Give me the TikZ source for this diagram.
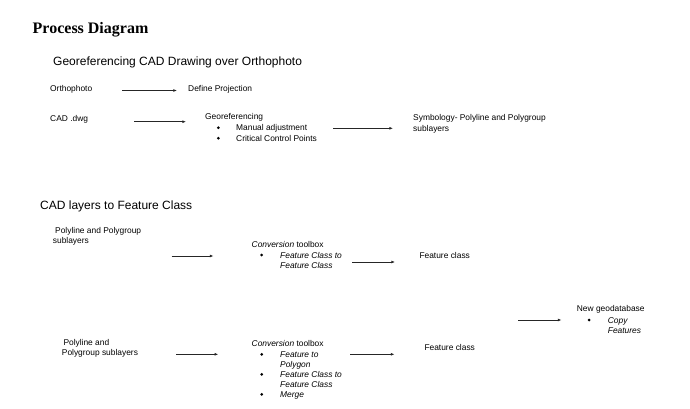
\documentclass[tikz,border=0pt]{standalone}
\usepackage{fontspec}
\setmainfont{Liberation Sans}
\newfontfamily\titlefont{Liberation Serif}
\usetikzlibrary{arrows.meta}
\begin{document}
\begin{tikzpicture}[x=1pt,y=-1pt,
  txt/.style={anchor=base west, inner sep=0pt, font=\fontsize{8.4}{10}\selectfont},
  itx/.style={anchor=base west, inner sep=0pt, font=\fontsize{8.4}{10}\selectfont\itshape},
  hd/.style={anchor=base west, inner sep=0pt, font=\fontsize{12}{14}\selectfont},
  ttl/.style={anchor=base west, inner sep=0pt, font=\titlefont\bfseries\fontsize{16}{18}\selectfont},
  bul/.style={circle, fill=black, inner sep=0pt, minimum size=3pt},
  arr/.style={-{Latex[length=3.6pt,width=2.8pt]}, line width=0.7pt, draw=black!85}]
\useasboundingbox (0,0) rectangle (690,409);
\fill[white] (0,0) rectangle (690,409);

% titles
\node[ttl] (title) at (32.5,33.5) {Process Diagram};
\node[hd] (h1) at (53,65.5) {Georeferencing CAD Drawing over Orthophoto};
\node[hd] (h2) at (40,209) {CAD layers to Feature Class};

% section 1
\node[txt] (ortho) at (50,92) {Orthophoto};
\node[txt] (defproj) at (188,92) {Define Projection};
\coordinate (a1s) at (122,90.5);
\coordinate (a1e) at (177,90.5);
\draw[arr] (a1s) -- (a1e);

\node[txt] (cad) at (50,121.5) {CAD .dwg};
\coordinate (a2s) at (134,121.7);
\coordinate (a2e) at (186,121.7);
\draw[arr] (a2s) -- (a2e);
\node[txt] (geo) at (205,120) {Georeferencing};
\node[bul] (gb1) at (218.3,127.7) {};
\node[txt] (geo1) at (236,131) {Manual adjustment};
\node[bul] (gb2) at (218.3,138.2) {};
\node[txt] (geo2) at (236,141.5) {Critical Control Points};
\coordinate (a3s) at (333,128.3);
\coordinate (a3e) at (393,128.3);
\draw[arr] (a3s) -- (a3e);
\node[txt] (sym1) at (413,121) {Symbology- Polyline and Polygroup};
\node[txt] (sym2) at (413,131.5) {sublayers};

% section 2, row 1
\node[txt] (p1a) at (55,233) {Polyline and Polygroup};
\node[txt] (p1b) at (52.7,243.5) {sublayers};
\coordinate (b1s) at (171.5,256);
\coordinate (b1e) at (213.5,256);
\draw[arr] (b1s) -- (b1e);
\node[txt] (conv1) at (251.5,247) {\itshape Conversion\upshape{} toolbox};
\node[bul] (cb1) at (261.7,255) {};
\node[itx] (fc1a) at (280,258.3) {Feature Class to};
\node[itx] (fc1b) at (280,268.5) {Feature Class};
\coordinate (b2s) at (352,262);
\coordinate (b2e) at (395,262);
\draw[arr] (b2s) -- (b2e);
\node[txt] (feat1) at (419.3,258.3) {Feature class};

% new geodatabase
\coordinate (b3s) at (518,320);
\coordinate (b3e) at (561.5,320);
\draw[arr] (b3s) -- (b3e);
\node[txt] (gdb) at (576.7,311.7) {New geodatabase};
\node[bul] (gdbb) at (589,320) {};
\node[itx] (copy1) at (607.7,323) {Copy};
\node[itx] (copy2) at (607.7,333) {Features};

% section 2, row 2
\node[txt] (p2a) at (63.3,345) {Polyline and};
\node[txt] (p2b) at (61.7,355.5) {Polygroup sublayers};
\coordinate (c1s) at (176,354.3);
\coordinate (c1e) at (218.3,354.3);
\draw[arr] (c1s) -- (c1e);
\node[txt] (conv2) at (251.5,346.7) {\itshape Conversion\upshape{} toolbox};
\node[bul] (cb2) at (261.7,354.3) {};
\node[itx] (ft1) at (280,357.5) {Feature to};
\node[itx] (ft2) at (280,367.5) {Polygon};
\node[bul] (cb3) at (261.7,374.3) {};
\node[itx] (ft3) at (280,377.5) {Feature Class to};
\node[itx] (ft4) at (280,387.7) {Feature Class};
\node[bul] (cb4) at (261.7,394.3) {};
\node[itx] (ft5) at (280,397.5) {Merge};
\coordinate (c2s) at (350,354.3);
\coordinate (c2e) at (394.5,354.3);
\draw[arr] (c2s) -- (c2e);
\node[txt] (feat2) at (424.3,350) {Feature class};
\end{tikzpicture}
\end{document}
